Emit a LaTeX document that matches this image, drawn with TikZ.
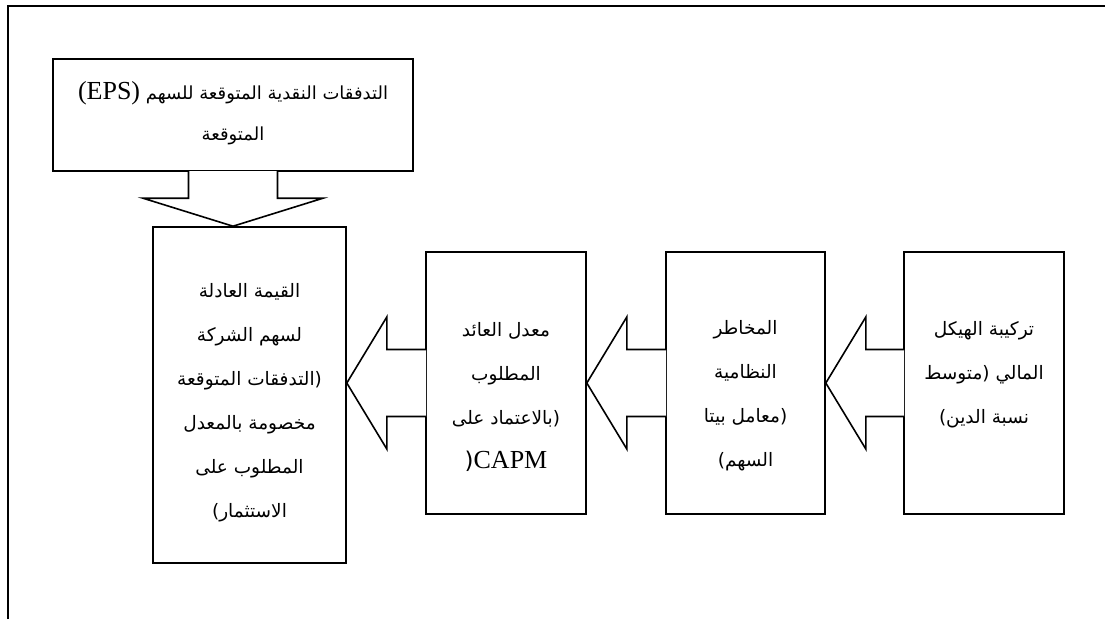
\documentclass[tikz,border=0pt]{standalone}
\usepackage{fontspec}
\setmainfont{Liberation Serif}
\newfontfamily\arabicfont[Script=Arabic]{DejaVu Sans}
\newfontfamily\latinfont{Liberation Serif}
\TeXXeTstate=1
\usetikzlibrary{calc}
\newcommand\arln[1]{\beginR #1\endR}
\newcommand\lpar[1]{\beginL #1\endL}
\newcommand\latin[1]{\beginL{\latinfont\fontsize{26}{44}\selectfont #1}\endL}
\begin{document}
\begin{tikzpicture}[x=1pt,y=-1pt,
  frame/.style={line width=1.6pt},
  box/.style={draw, line width=1.6pt, inner sep=0pt, fill=white},
  arrowline/.style={draw, line width=1.6pt, fill=white, line join=miter},
  txt/.style={align=center, inner sep=0pt, font=\arabicfont\fontsize{18.5}{44}\selectfont}]
\useasboundingbox (0,0) rectangle (1105,619);
\fill[white] (0,0) rectangle (1105,619);
\draw[frame] (8,619) -- (8,6) -- (1105,6);

% boxes
\node[box, minimum width=360pt, minimum height=112pt] (top) at (233,115) {};
\node[box, minimum width=193pt, minimum height=336pt] (main) at (249.5,395) {};
\node[box, minimum width=160pt, minimum height=262pt] (capm) at (506,383) {};
\node[box, minimum width=159pt, minimum height=262pt] (risk) at (745.5,383) {};
\node[box, minimum width=160pt, minimum height=262pt] (struct) at (984,383) {};

% top arrow
\coordinate (t0) at (top.south |- main.north);
\path[arrowline] ($(top.south)+(-44.5,-0.8)$) -- ($(t0)+(-44.5,-28)$) -- ($(t0)+(-90,-28)$) -- (t0)
  -- ($(t0)+(90,-28)$) -- ($(t0)+(44.5,-28)$) -- ($(top.south)+(44.5,-0.8)$);

% horizontal arrows
\coordinate (t1) at (main.east |- capm.west);
\path[arrowline] ($(capm.west)+(0.8,-33.5)$) -- ($(t1)+(40,-33.5)$) -- ($(t1)+(40,-66)$) -- (t1)
  -- ($(t1)+(40,66)$) -- ($(t1)+(40,33.5)$) -- ($(capm.west)+(0.8,33.5)$);
\coordinate (t2) at (capm.east |- risk.west);
\path[arrowline] ($(risk.west)+(0.8,-33.5)$) -- ($(t2)+(40,-33.5)$) -- ($(t2)+(40,-66)$) -- (t2)
  -- ($(t2)+(40,66)$) -- ($(t2)+(40,33.5)$) -- ($(risk.west)+(0.8,33.5)$);
\coordinate (t3) at (risk.east |- struct.west);
\path[arrowline] ($(struct.west)+(0.8,-33.5)$) -- ($(t3)+(40,-33.5)$) -- ($(t3)+(40,-66)$) -- (t3)
  -- ($(t3)+(40,66)$) -- ($(t3)+(40,33.5)$) -- ($(struct.west)+(0.8,33.5)$);

% texts
\node[txt, font=\arabicfont\fontsize{18}{41}\selectfont] (topT) at (233,113)
  {\arln{التدفقات النقدية المتوقعة للسهم \latin{(EPS)}}\\ \arln{المتوقعة}};
\node[txt] (mainT) at (249.5,403)
  {\arln{القيمة العادلة}\\
   \arln{لسهم الشركة}\\
   \arln{\lpar{(}التدفقات المتوقعة}\\
   \arln{مخصومة بالمعدل}\\
   \arln{المطلوب على}\\
   \arln{الاستثمار\lpar{)}}};
\node[txt] (capmT) at (506,397)
  {\arln{معدل العائد}\\
   \arln{المطلوب}\\
   \arln{\lpar{(}بالاعتماد على}\\
   \arln{\latin{CAPM}\lpar{\fontsize{23}{44}\selectfont(}}};
\node[txt] (riskT) at (745.5,396)
  {\arln{المخاطر}\\
   \arln{النظامية}\\
   \arln{\lpar{(}معامل بيتا}\\
   \arln{السهم\lpar{)}}};
\node[txt] (structT) at (984,375)
  {\arln{تركيبة الهيكل}\\
   \arln{المالي \lpar{(}متوسط}\\
   \arln{نسبة الدين\lpar{)}}};
\end{tikzpicture}
\end{document}
